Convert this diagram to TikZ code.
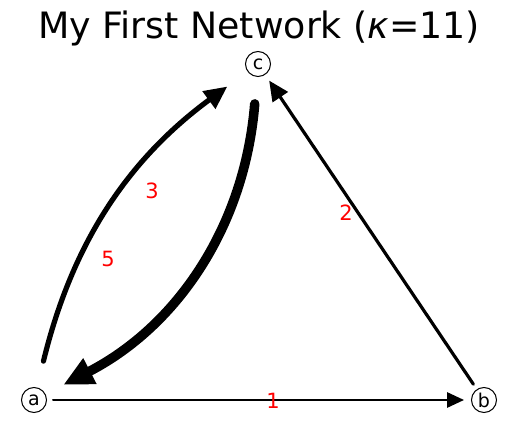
\documentclass[tikz,border=0pt]{standalone}
\usepackage{fontspec}
\setmainfont{DejaVu Sans}
\usetikzlibrary{arrows.meta}
\tikzset{
    vertex/.style={draw, circle, line width=1pt, minimum size=25pt, inner sep=0pt, font=\fontsize{19}{19}\selectfont},
    weightlabel/.style={text=red, inner sep=0pt, font=\fontsize{21}{21}\selectfont},
    titletext/.style={inner sep=0pt, anchor=base, font=\fontsize{36.3}{36.3}\selectfont},
    wedge/.style={line cap=round, -{Triangle[length=#1, width=0.9*#1]}},
    wone/.style={wedge=17pt, line width=2pt, shorten <=6pt, shorten >=7pt},
    wtwo/.style={wedge=20pt, line width=3.2pt, shorten <=6pt, shorten >=7pt},
    wthree/.style={wedge=23pt, line width=5.2pt, shorten <=27pt, shorten >=25pt},
    wfive/.style={wedge=30pt, line width=9.5pt, shorten <=27pt, shorten >=20pt}
}
\begin{document}
\begin{tikzpicture}[x=1pt, y=-1pt]
        \useasboundingbox (0,0) rectangle (515,427);
        \node[titletext] (title) at (259,39) {My First Network (\textit{κ}=11)};

        \node[vertex] (a) at (34,400) {a};
        \node[vertex] (b) at (484,400) {b};
        \node[vertex] (c) at (258,64) {c};

        \draw[wone] (a) -- (b);
        \draw[wtwo] (b) -- (c);
        \draw[wthree] (a) to[bend left=20] (c);
        \draw[wfive] (c) to[bend left=29] (a);

        \node[weightlabel] (lab1) at (273,401) {1};
        \node[weightlabel] (lab2) at (346,213) {2};
        \node[weightlabel] (lab3) at (152,191) {3};
        \node[weightlabel] (lab5) at (108,259) {5};
    \end{tikzpicture}
\end{document}
